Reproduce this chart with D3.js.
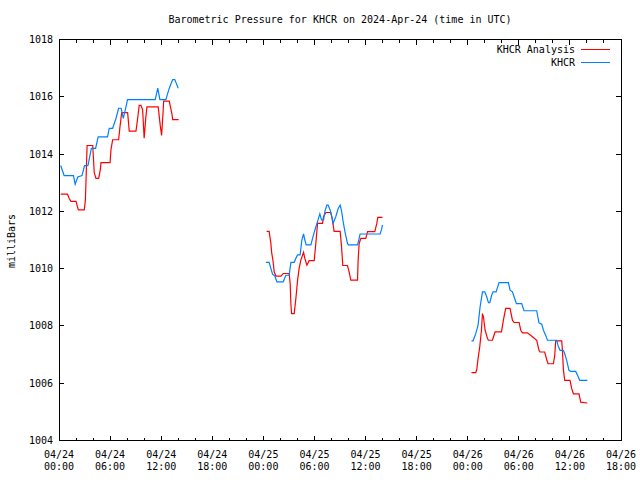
<!DOCTYPE html>
<html>
<head>
<meta charset="utf-8">
<script src="https://cdn.jsdelivr.net/npm/d3@7"></script>
<style>
  body { margin: 0; background: #fff; }
  text { font-family: "DejaVu Sans Mono", monospace; font-size: 10px; fill: #000; }
</style>
</head>
<body>
<svg width="640" height="480"></svg>
<script>
// hours since 2024-04-24 00:00 UTC, null = gap between runs
const analysisHours = [
  0.2, 1.0, 1.2, 1.4, 2.0, 2.27, 2.97, 3.1, 3.3, 3.96, 4.14, 4.34, 4.66, 4.85, 4.93, 6.0, 6.1, 6.3, 7.0, 7.16,
  7.36, 8.06, 8.25, 9.04, 9.24, 9.42, 9.62, 9.82, 10.0, 10.2, 10.33, 11.65, 11.89, 12.05, 12.24, 12.29, 12.95,
  13.26, 13.35, 14.05,
  null,
  24.38, 24.68, 24.88, 24.97, 25.15, 25.27, 25.47, 26.06, 26.33, 27.03, 27.15, 27.23, 27.31, 27.62, 27.82, 28.02,
  28.2, 28.4, 28.72, 28.87, 29.11, 29.38, 29.97, 30.16, 30.36, 30.95, 31.07, 31.34, 31.92, 32.12, 32.31, 33.02,
  33.18, 33.33, 33.88, 34.07, 34.27, 35.06, 35.13, 35.25, 35.45, 36.03, 36.23, 37.09, 37.32, 37.44, 37.99,
  null,
  48.44, 48.94, 49.06, 49.21, 49.41, 49.61, 49.73, 49.85, 50.04, 50.32, 50.43, 50.9, 51.21, 51.96, 52.19, 52.46,
  52.97, 53.25, 53.44, 54.03, 54.23, 54.42, 55.01, 55.6, 56.1, 56.37, 56.49, 57.04, 57.28, 57.43, 58.06, 58.22,
  58.33, 59.04, 59.12, 59.24, 59.39, 60.01, 60.21, 60.41, 61.07, 61.27, 62.05
];
const analysisValues = [
  1012.6, 1012.6, 1012.45, 1012.35, 1012.35, 1012.05, 1012.05, 1012.4, 1014.3, 1014.3, 1013.35, 1013.15, 1013.15,
  1013.45, 1013.7, 1013.7, 1014.15, 1014.5, 1014.5, 1014.95, 1015.45, 1015.45, 1014.8, 1014.8, 1015.25, 1015.7,
  1015.7, 1015.55, 1014.55, 1015.3, 1015.65, 1015.65, 1015.0, 1014.65, 1015.55, 1015.85, 1015.85, 1015.4, 1015.2,
  1015.2,
  null,
  1011.3, 1011.3, 1010.88, 1010.57, 1010.24, 1009.89, 1009.74, 1009.74, 1009.83, 1009.83, 1009.48, 1008.78,
  1008.43, 1008.43, 1008.96, 1009.6, 1010.01, 1010.3, 1010.57, 1010.36, 1010.12, 1010.28, 1010.28, 1010.88,
  1011.58, 1011.58, 1011.82, 1011.96, 1011.96, 1011.68, 1011.3, 1011.3, 1010.77, 1010.11, 1010.11, 1009.89,
  1009.6, 1009.6, 1010.3, 1010.88, 1011.06, 1011.06, 1011.29, 1011.29, 1011.58, 1011.79, 1011.79,
  null,
  1006.37, 1006.37, 1006.47, 1006.86, 1007.27, 1007.85, 1008.43, 1008.31, 1007.85, 1007.56, 1007.5, 1007.5,
  1007.79, 1007.79, 1008.2, 1008.61, 1008.61, 1008.2, 1008.12, 1008.12, 1007.85, 1007.76, 1007.76, 1007.62,
  1007.5, 1007.15, 1007.09, 1007.09, 1006.82, 1006.68, 1006.68, 1006.97, 1007.48, 1007.48, 1007.15, 1006.45,
  1006.1, 1006.1, 1005.81, 1005.63, 1005.63, 1005.34, 1005.31
];

const obsHours = [
  0.2, 0.6, 1.7, 1.9, 2.2, 2.7, 3.0, 3.4, 3.8, 4.3, 4.6, 5.7, 5.9, 6.3, 6.7, 7.0, 7.3, 7.55, 7.75, 8.05, 11.3,
  11.6, 11.85, 12.55, 12.95, 13.35, 13.6, 14.0,
  null,
  24.3, 24.68, 24.88, 25.08, 25.35, 25.59, 26.33, 26.64, 27.03, 27.23, 27.62, 27.82, 28.02, 28.32, 28.52, 28.72,
  28.87, 29.03, 29.58, 29.78, 30.05, 30.36, 30.63, 30.83, 31.07, 31.22, 31.46, 31.61, 31.84, 32.04, 32.19, 32.51,
  32.78, 33.02, 33.18, 33.37, 33.6, 33.88, 34.0, 35.06, 35.25, 35.36, 37.71, 37.88, 37.99,
  null,
  48.44, 48.63, 48.94, 49.21, 49.45, 49.73, 50.0, 50.23, 50.43, 50.59, 50.82, 50.97, 51.33, 51.68, 52.78, 52.97,
  53.25, 53.44, 53.72, 54.34, 54.61, 56.1, 56.37, 56.69, 56.89, 57.16, 57.36, 58.45, 58.6, 58.84, 59.24, 59.39,
  59.62, 59.89, 60.09, 60.68, 60.95, 61.15, 62.05
];
const obsValues = [
  1013.6, 1013.25, 1013.25, 1012.95, 1013.2, 1013.25, 1013.6, 1013.6, 1014.2, 1014.2, 1014.6, 1014.6, 1014.9,
  1014.9, 1015.25, 1015.6, 1015.6, 1015.25, 1015.5, 1015.9, 1015.9, 1016.3, 1015.9, 1015.9, 1016.3, 1016.6,
  1016.6, 1016.3,
  null,
  1010.22, 1010.22, 1010.01, 1009.81, 1009.74, 1009.54, 1009.54, 1009.77, 1009.77, 1010.22, 1010.22, 1010.36,
  1010.48, 1010.48, 1011.0, 1011.21, 1011.0, 1010.83, 1010.83, 1011.06, 1011.35, 1011.64, 1011.91, 1011.7,
  1011.7, 1011.99, 1012.22, 1012.22, 1012.05, 1011.82, 1011.58, 1011.82, 1012.09, 1012.22, 1012.02, 1011.64,
  1011.26, 1010.88, 1010.83, 1010.83, 1011.06, 1011.21, 1011.21, 1011.37, 1011.53,
  null,
  1007.48, 1007.48, 1007.73, 1008.02, 1008.66, 1009.19, 1009.19, 1009.02, 1008.81, 1008.81, 1009.08, 1009.19,
  1009.19, 1009.51, 1009.51, 1009.25, 1009.19, 1009.02, 1008.78, 1008.78, 1008.53, 1008.53, 1008.11, 1008.06,
  1007.85, 1007.67, 1007.5, 1007.5, 1007.32, 1007.15, 1007.15, 1007.03, 1006.8, 1006.45, 1006.41, 1006.41,
  1006.24, 1006.1, 1006.1
];

const yTicks = [1004, 1006, 1008, 1010, 1012, 1014, 1016, 1018];
const seriesNames = ["KHCR Analysis", "KHCR"];
const seriesColors = ["#ff0000", "#0080ff"];

const start = new Date(Date.UTC(2024, 3, 24, 0));
const end = new Date(Date.UTC(2024, 3, 26, 18));
const toDate = h => new Date(start.getTime() + h * 3600e3);

const plotLeft = 59, plotRight = 621, plotTop = 39.5, plotBottom = 440.5;
const svg = d3.select("svg");

const x = d3.scaleUtc().domain([start, end]).range([plotLeft, plotRight]);
const y = d3.scaleLinear().domain([1004, 1018]).range([plotBottom, plotTop]);

const majorX = d3.utcHour.every(6).range(start, new Date(end.getTime() + 1));
const minorX = d3.utcHour.every(2).range(start, new Date(end.getTime() + 1));

// ticks, gnuplot style: inward on every side
const tickG = svg.append("g").attr("stroke", "#000").attr("shape-rendering", "crispEdges");
minorX.forEach(d => {
  const len = majorX.some(m => +m === +d) ? 5 : 3;
  tickG.append("line").attr("x1", x(d)).attr("x2", x(d)).attr("y1", plotBottom).attr("y2", plotBottom - len);
  tickG.append("line").attr("x1", x(d)).attr("x2", x(d)).attr("y1", plotTop).attr("y2", plotTop + len);
});
yTicks.forEach(v => {
  tickG.append("line").attr("x1", plotLeft).attr("x2", plotLeft + 5).attr("y1", y(v)).attr("y2", y(v));
  tickG.append("line").attr("x1", plotRight).attr("x2", plotRight - 5).attr("y1", y(v)).attr("y2", y(v));
});

svg.append("rect")
  .attr("x", plotLeft).attr("y", plotTop)
  .attr("width", plotRight - plotLeft).attr("height", plotBottom - plotTop)
  .attr("fill", "none").attr("stroke", "#000").attr("shape-rendering", "crispEdges");

// y labels
svg.append("g").selectAll("text")
  .data(yTicks).enter().append("text")
  .attr("x", plotLeft - 6).attr("y", d => y(d)).attr("dy", "0.35em")
  .attr("text-anchor", "end")
  .text(d => d);

// x labels (two lines)
const fmtDay = d3.utcFormat("%m/%d"), fmtTime = d3.utcFormat("%H:%M");
const xl = svg.append("g").selectAll("text")
  .data(majorX).enter().append("text")
  .attr("text-anchor", "middle");
xl.append("tspan").attr("x", d => x(d)).attr("y", 458).text(d => fmtDay(d));
xl.append("tspan").attr("x", d => x(d)).attr("y", 470).text(d => fmtTime(d));

svg.append("text")
  .attr("x", 340).attr("y", 23)
  .attr("text-anchor", "middle")
  .text("Barometric Pressure for KHCR on 2024-Apr-24 (time in UTC)");

svg.append("text")
  .attr("transform", "translate(15,241) rotate(-90)")
  .attr("text-anchor", "middle")
  .text("milliBars");

// series
const line = d3.line()
  .defined(d => d[0] !== null && d[1] !== null)
  .x(d => x(toDate(d[0])))
  .y(d => y(d[1]));

const series = [
  d3.zip(analysisHours, analysisValues),
  d3.zip(obsHours, obsValues)
];
series.forEach((pts, i) => {
  svg.append("path")
    .datum(pts)
    .attr("fill", "none")
    .attr("stroke", seriesColors[i])
    .attr("stroke-width", 1.2)
    .attr("d", line);
});

// legend
seriesNames.forEach((name, i) => {
  const ly = 49.5 + i * 13;
  svg.append("text").attr("x", 575).attr("y", ly).attr("dy", "0.35em")
    .attr("text-anchor", "end").text(name);
  svg.append("line").attr("x1", 581).attr("x2", 610).attr("y1", ly).attr("y2", ly)
    .attr("stroke", seriesColors[i]).attr("shape-rendering", "crispEdges");
});
</script>
</body>
</html>
